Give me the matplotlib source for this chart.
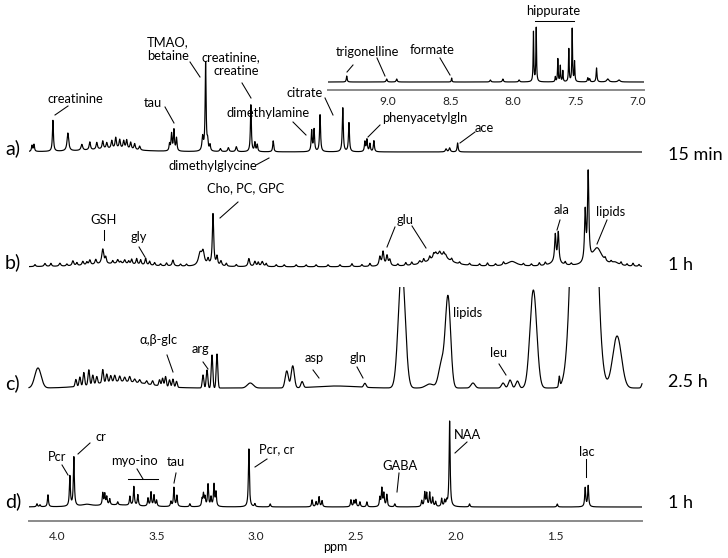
import numpy as np
import matplotlib
matplotlib.use("Agg")
import matplotlib.pyplot as plt
from matplotlib.lines import Line2D
from matplotlib.patches import Rectangle

plt.rcParams['font.family'] = ['Lato', 'DejaVu Sans']

# ---------------- data (peak lists) ----------------
# a) 15 min
a_ppm = [4.125, 4.115, 4.02, 3.945, 3.875, 3.835, 3.80, 3.77, 3.75, 3.725, 3.705, 3.685,
         3.665, 3.65, 3.63, 3.61, 3.585, 3.435, 3.425, 3.413, 3.40, 3.269, 3.254, 3.244,
         3.232, 3.18, 3.14, 3.10, 3.027, 3.007, 2.995, 2.915, 2.722, 2.71, 2.68, 2.566,
         2.535, 2.455, 2.445, 2.43, 2.41, 2.048, 2.03, 1.99, 3.72]
a_int = [6, 7, 31, 18, 6, 8, 7, 8, 6, 8, 11, 9,
         8, 9, 7, 6, 4, 7, 17, 21, 13, 14, 89, 9,
         6, 3, 4, 5, 47, 9, 7, 11, 21, 22, 37, 44,
         29, 10, 12, 8, 11, 3, 4, 9, 3]
a_hw = [0.003, 0.003, 0.003, 0.005, 0.005, 0.004, 0.004, 0.004, 0.004, 0.004, 0.004, 0.004,
        0.004, 0.004, 0.004, 0.004, 0.004, 0.003, 0.003, 0.003, 0.003, 0.004, 0.0028, 0.003,
        0.003, 0.004, 0.004, 0.004, 0.0028, 0.003, 0.003, 0.003, 0.003, 0.003, 0.003, 0.003,
        0.003, 0.003, 0.003, 0.003, 0.003, 0.004, 0.004, 0.003, 0.15]

# inset of a): aromatic region
i_ppm = [9.33, 9.01, 8.93, 8.49, 8.18, 8.08, 7.95, 7.835, 7.813, 7.66, 7.64, 7.62, 7.60,
         7.552, 7.525, 7.506, 7.40, 7.385, 7.33, 7.24, 7.15]
i_int = [6, 3, 3, 4, 2, 3, 2, 50, 54, 5, 23, 16, 11, 33, 53, 20, 4, 3, 14, 3, 2]
i_hw = [0.004, 0.005, 0.005, 0.003, 0.005, 0.005, 0.005, 0.003, 0.003, 0.003, 0.003, 0.003,
        0.003, 0.003, 0.003, 0.003, 0.004, 0.004, 0.004, 0.01, 0.01]

# b) 1 h : main resonances
b_ppm = [4.06, 3.985, 3.92, 3.87, 3.835, 3.805, 3.77, 3.755, 3.695, 3.66, 3.625, 3.60,
         3.58, 3.555, 3.535, 3.418, 3.282, 3.267, 3.242, 3.217, 3.197, 3.177, 3.037, 3.007,
         2.97, 2.38, 2.364, 2.344, 2.33, 2.18, 2.10, 2.08, 2.05, 2.08, 1.717, 1.50, 1.485,
         1.50, 1.35, 1.335, 1.29, 1.20, 3.70]
b_int = [3, 3, 5, 4, 5, 5, 15, 6, 4, 4, 5, 6,
         5, 7, 4, 6, 12, 13, 6, 52, 9, 5, 8, 5,
         5, 9, 14, 10, 6, 3, 4, 4, 3, 11, 5, 27, 30,
         4, 50, 88, 18, 3, 3]
b_hw = [0.005, 0.005, 0.005, 0.005, 0.005, 0.005, 0.006, 0.004, 0.005, 0.005, 0.004, 0.004,
        0.004, 0.004, 0.004, 0.005, 0.01, 0.008, 0.005, 0.004, 0.004, 0.005, 0.005, 0.005,
        0.006, 0.005, 0.005, 0.005, 0.005, 0.006, 0.006, 0.006, 0.006, 0.06, 0.03, 0.004, 0.004,
        0.03, 0.004, 0.004, 0.03, 0.02, 0.15]
# b) small wiggles seen along the baseline
b_small_ppm = [4.11, 4.03, 3.95, 3.90, 3.85, 3.72, 3.68, 3.64, 3.51, 3.48, 3.45, 3.38,
               3.35, 3.15, 3.10, 2.99, 2.95, 2.90, 2.86, 2.80, 2.75, 2.70, 2.64, 2.58,
               2.52, 2.47, 2.43, 2.29, 2.25, 2.22, 2.16, 2.13, 2.11, 2.06, 2.02, 1.98,
               1.93, 1.88, 1.84, 1.80, 1.76, 1.66, 1.62, 1.58, 1.55, 1.45, 1.42, 1.25,
               1.22, 1.17, 1.14, 1.11, 1.08]
b_small_int = [2, 3, 2, 3, 3, 3, 2, 3, 3, 2, 3, 2,
               2, 3, 2, 4, 3, 2, 2, 2, 2, 2, 2, 2,
               3, 2, 3, 2, 3, 3, 4, 4, 4, 4, 3, 2,
               2, 2, 3, 2, 3, 2, 2, 3, 3, 3, 2, 3,
               2, 3, 2, 3, 2]

# c) 2.5 h (broad lines)
c_ppm = [4.095, 3.905, 3.885, 3.865, 3.84, 3.82, 3.80, 3.77, 3.75, 3.73, 3.71, 3.685,
         3.66, 3.635, 3.61, 3.585, 3.55, 3.52, 3.485, 3.47, 3.455, 3.435, 3.418, 3.40,
         3.68, 3.267, 3.247, 3.222, 3.197, 3.03, 2.847, 2.817, 2.77, 2.455, 2.27, 2.13,
         2.07, 2.038, 1.913, 1.762, 1.727, 1.69, 1.61, 1.48, 1.355, 1.19, 1.06, 2.60]
c_int = [20, 7, 9, 13, 15, 9, 7, 13, 8, 6, 6, 5,
         4, 5, 3, 3, 3, 4, 6, 8, 10, 7, 8, 6,
         7, 13, 18, 33, 34, 5, 17, 22, 6, 4, 121, 4,
         25, 90, 5, 5, 8, 7, 98, 10, 926, 52, 6, 2]
c_sd = [0.016, 0.004, 0.004, 0.004, 0.004, 0.004, 0.004, 0.004, 0.004, 0.004, 0.004, 0.004,
        0.004, 0.004, 0.004, 0.004, 0.004, 0.004, 0.004, 0.004, 0.004, 0.004, 0.004, 0.004,
        0.13, 0.004, 0.004, 0.004, 0.004, 0.015, 0.008, 0.008, 0.006, 0.006, 0.017, 0.02,
        0.015, 0.013, 0.01, 0.008, 0.008, 0.008, 0.017, 0.003, 0.0356, 0.022, 0.006, 0.1]

# d) 1 h
d_ppm = [4.10, 4.085, 4.045, 3.935, 3.915, 3.77, 3.76, 3.75, 3.735, 3.695, 3.634, 3.614,
         3.594, 3.543, 3.528, 3.513, 3.50, 3.428, 3.413, 3.398, 3.333, 3.272, 3.265, 3.257,
         3.242, 3.227, 3.212, 3.202, 3.037, 3.007, 2.93, 2.72, 2.70, 2.685, 2.67, 2.525,
         2.51, 2.50, 2.48, 2.445, 2.38, 2.37, 2.36, 2.345, 2.305, 2.17, 2.155, 2.145, 2.13,
         2.115, 2.10, 2.07, 2.055, 2.045, 2.03, 1.93, 1.49, 1.35, 1.335, 3.70, 3.85]
d_int = [3, 2, 12, 30, 49, 12, 11, 8, 6, 3, 9, 19,
         11, 8, 14, 11, 6, 5, 19, 11, 3, 7, 12, 9,
         22, 9, 22, 14, 58, 3, 3, 7, 5, 10, 6, 7,
         6, 7, 5, 5, 9, 18, 13, 12, 3, 6, 14, 13, 14,
         9, 5, 8, 6, 5, 86, 3, 3, 19, 21, 2, 2]
d_hw = [0.003] * 59 + [0.1, 0.03]

# texts
spec_tags = ['a)', 'b)', 'c)', 'd)']
spec_times = ['15 min', '1 h', '2.5 h', '1 h']
main_ticks = [4.0, 3.5, 3.0, 2.5, 2.0, 1.5]
main_ticklabels = ['4.0', '3.5', '3.0', '2.5', '2.0', '1.5']
inset_ticks = [9.0, 8.5, 8.0, 7.5, 7.0]
inset_ticklabels = ['9.0', '8.5', '8.0', '7.5', '7.0']


def lorentz(x, pos, hgt, hw):
    hw = np.broadcast_to(np.asarray(hw, float), np.shape(pos))
    y = np.zeros_like(x)
    for p, h, w in zip(pos, hgt, hw):
        y += h / (1.0 + ((x - p) / w) ** 2)
    return y


def gauss(x, pos, hgt, sd):
    y = np.zeros_like(x)
    for p, h, s in zip(pos, hgt, sd):
        y += h * np.exp(-0.5 * ((x - p) / s) ** 2)
    return y


W, H = 728, 558
fig = plt.figure(figsize=(W / 100, H / 100), dpi=100)


def F(x, y):
    return x / W, 1 - y / H


def label(x, y, s, size=9.3, ha='center'):
    fx, fy = F(x, y)
    fig.text(fx, fy, s, ha=ha, va='center', fontsize=size, color='black')


def seg(x1, y1, x2, y2):
    a = F(x1, y1)
    b = F(x2, y2)
    fig.add_artist(Line2D([a[0], b[0]], [a[1], b[1]], color='black', lw=0.75))


# ---------------- main axes ----------------
ax_bottom_px = 521
ax = fig.add_axes([29 / W, (H - ax_bottom_px) / H, (642 - 29) / W, ax_bottom_px / H])
ax.set_xlim(4.14, 1.065)
ax.set_ylim(0, ax_bottom_px)
x = np.linspace(4.14, 1.065, 6000)

base_px = {'a': 152, 'b': 267, 'c': 388, 'd': 507}
lw = 0.85
ya = lorentz(x, a_ppm, a_int, a_hw)
ax.plot(x, ax_bottom_px - base_px['a'] + ya, color='black', lw=lw)
yb = lorentz(x, b_ppm, b_int, b_hw) + lorentz(x, b_small_ppm, b_small_int, 0.004)
ax.plot(x, ax_bottom_px - base_px['b'] + yb, color='black', lw=lw)
yc = gauss(x, c_ppm, c_int, c_sd)
lc, = ax.plot(x, ax_bottom_px - base_px['c'] + yc, color='black', lw=lw)
clip = Rectangle((1.0, 0), 3.5, ax_bottom_px - 287, transform=ax.transData)
lc.set_clip_path(clip)
yd = lorentz(x, d_ppm, d_int, d_hw)
ax.plot(x, ax_bottom_px - base_px['d'] + yd, color='black', lw=lw)

for s in ['top', 'right', 'left']:
    ax.spines[s].set_visible(False)
ax.spines['bottom'].set_color('#8a8a8a')
ax.spines['bottom'].set_linewidth(1.4)
ax.set_yticks([])
ax.set_xticks(main_ticks)
ax.set_xticklabels(main_ticklabels)
ax.tick_params(axis='x', length=0, pad=7, labelsize=8.6, colors='#222222')
ax.patch.set_alpha(0)
label(335, 547, 'ppm', size=9)

# ---------------- inset ----------------
ins_bottom_px = 90
iax = fig.add_axes([328 / W, (H - ins_bottom_px) / H, (644 - 328) / W, ins_bottom_px / H])
iax.set_xlim(9.48, 6.95)
iax.set_ylim(0, ins_bottom_px)
xi = np.linspace(9.48, 6.95, 5000)
iax.plot(xi, 8 + lorentz(xi, i_ppm, i_int, i_hw), color='black', lw=lw)
for s in ['top', 'right', 'left']:
    iax.spines[s].set_visible(False)
iax.spines['bottom'].set_color('#8a8a8a')
iax.spines['bottom'].set_linewidth(1.4)
iax.set_yticks([])
iax.set_xticks(inset_ticks)
iax.set_xticklabels(inset_ticklabels)
iax.tick_params(axis='x', length=0, pad=4, labelsize=8.6, colors='#222222')
iax.patch.set_alpha(0)

# ---------------- spectrum tags and times ----------------
for s, yy in zip(spec_tags, [148, 262, 383, 501]):
    label(5, yy, s, size=14, ha='left')
for s, yy in zip(spec_times, [155, 265, 382, 503]):
    label(668, yy, s, size=13, ha='left')

# ---------------- annotations ----------------
# a)
label(75, 99, 'creatinine'); seg(68, 106, 55, 115)
label(147, 42, 'TMAO,', ha='left'); label(147, 56, 'betaine', ha='left'); seg(190, 62, 200, 77)
label(231, 57, 'creatinine,'); label(236, 71, 'creatine'); seg(242, 83, 251, 98)
label(153, 103, 'tau'); seg(165, 107, 174, 123)
label(268, 113, 'dimethylamine'); seg(293, 122, 306, 135)
label(305, 93, 'citrate'); seg(325, 98, 333, 115)
label(213, 166, 'dimethylglycine'); seg(256, 165, 269, 158)
label(425, 118, 'phenyacetylgln'); seg(380, 125, 368, 137)
label(484, 128, 'ace'); seg(475, 132, 460, 143)
# inset
label(367, 52, 'trigonelline'); seg(353, 65, 347, 72); seg(377, 58, 385, 76)
label(432, 50, 'formate'); seg(440, 58, 450, 75)
label(553, 11, 'hippurate'); seg(535, 21, 574, 21)
# b)
label(104, 220, 'GSH'); seg(104, 230, 104, 240)
label(139, 237, 'gly'); seg(139, 247, 145, 257)
label(246, 188, 'Cho, PC, GPC'); seg(238, 202, 220, 218)
label(405, 220, 'glu'); seg(395, 227, 387, 247); seg(412, 226, 426, 248)
label(562, 210, 'ala'); seg(560, 220, 557, 230)
label(611, 212, 'lipids'); seg(607, 220, 597, 244)
# c)
label(159, 340, 'α,β-glc'); seg(167, 355, 173, 372)
label(200, 349, 'arg'); seg(203, 362, 208, 369)
label(314, 358, 'asp'); seg(313, 370, 319, 378)
label(358, 358, 'gln'); seg(357, 367, 363, 378)
label(468, 313, 'lipids')
label(499, 353, 'leu'); seg(499, 364, 506, 375)
# d)
label(57, 457, 'Pcr'); seg(62, 465, 68, 475)
label(101, 437, 'cr'); seg(90, 443, 78, 454)
label(134, 461, 'myo-ino'); seg(128, 479, 158, 479); seg(137, 469, 143, 479)
label(176, 462, 'tau'); seg(176, 473, 174, 483)
label(277, 449, 'Pcr, cr'); seg(267, 459, 255, 467)
label(400, 466, 'GABA'); seg(399, 473, 397, 492)
label(467, 435, 'NAA'); seg(467, 442, 455, 453)
label(587, 452, 'lac'); seg(586, 459, 586, 477)

fig.savefig('out.png', dpi=100)
